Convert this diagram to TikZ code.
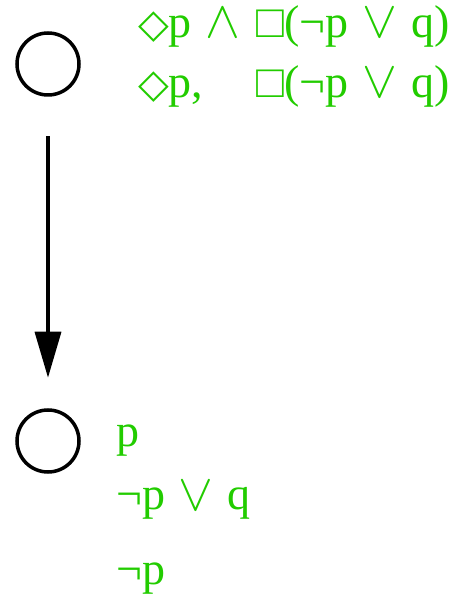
\documentclass[tikz,border=0pt]{standalone}
\usepackage{calc}
\usepackage{graphicx}
\usepackage{fontspec}
\setmainfont{Liberation Serif}
\newfontfamily\dsym{DejaVu Sans Bold}
\usetikzlibrary{arrows.meta}
\definecolor{formgreen}{RGB}{34,204,0}
\newcommand{\dia}{{\dsym\fontsize{40}{40}\selectfont ◇}}
\newcommand{\tor}{\scalebox{2.1}{$\vee$}}
\newcommand{\tand}{\scalebox{2.1}{$\wedge$}}
\tikzset{
  world/.style={circle,draw,line width=3.5pt,minimum size=62pt,inner sep=0pt},
  formula/.style={anchor=base west,inner sep=0pt,text=formgreen,
    font=\fontsize{46}{46}\selectfont},
}
\begin{document}
\begin{tikzpicture}[x=1pt,y=1pt]
  \useasboundingbox (0,0) rectangle (452,598);
  \node[world] (w0) at (48,534) {};
  \node[world] (w1) at (48,157) {};
  \draw[line width=3.5pt,-{Triangle[length=46pt,width=26pt]},
    shorten <=39.5pt,shorten >=30.5pt] (w0) -- (w1);
  \node[formula] (f1) at (138,560)
    {\dia p\hspace{0.3em}\tand\hspace{0.35em}□(¬p\hspace{0.3em}\tor\hspace{0.3em}q)};
  \node[formula] (f2) at (138,500)
    {\makebox[\widthof{\dia p\hspace{0.3em}\tand\hspace{0.35em}}][l]{\dia p,}%
     □(¬p\hspace{0.3em}\tor\hspace{0.3em}q)};
  \node[formula] (g1) at (116,151) {p};
  \node[formula] (g2) at (116,88) {¬p\hspace{0.3em}\tor\hspace{0.3em}q};
  \node[formula] (g3) at (116,13) {¬p};
\end{tikzpicture}
\end{document}
